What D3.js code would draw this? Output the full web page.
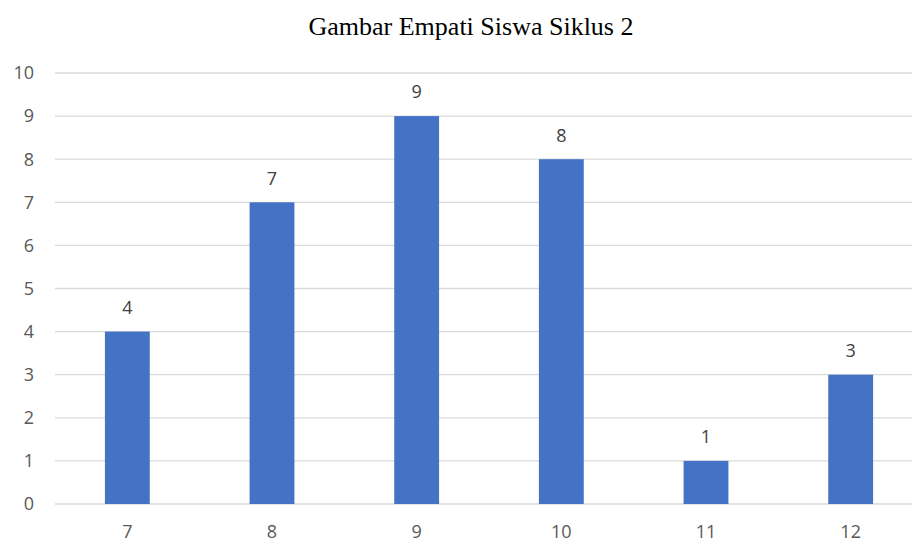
<!DOCTYPE html>
<html>
<head>
<meta charset="utf-8">
<script src="https://cdn.jsdelivr.net/npm/d3@7"></script>
<style>
  body { margin: 0; background: #fff; }
  svg { display: block; }
</style>
</head>
<body>
<script>
// chart data
const categories = ["7", "8", "9", "10", "11", "12"];
const values = [4, 7, 9, 8, 1, 3];
const yTicks = [0, 1, 2, 3, 4, 5, 6, 7, 8, 9, 10];
const title = "Gambar Empati Siswa Siklus 2";

const W = 912, H = 544;
const svg = d3.select("body").append("svg").attr("width", W).attr("height", H);

const x = d3.scaleBand().domain(categories).range([55, 923]).padding(0);
const y = d3.scaleLinear().domain([0, 10]).range([504, 73]);
const barW = x.bandwidth() * 0.31;
const labelFont = "Open Sans, sans-serif";

// gridlines
svg.append("g").selectAll("line").data(yTicks).join("line")
    .attr("x1", 55).attr("x2", W)
    .attr("y1", d => y(d)).attr("y2", d => y(d))
    .attr("stroke", "#d9d9d9").attr("stroke-width", 1.3);

// y labels
svg.append("g").selectAll("text").data(yTicks).join("text")
    .attr("x", 34).attr("y", d => y(d)).attr("dy", "0.35em")
    .attr("text-anchor", "end")
    .attr("font-family", labelFont).attr("font-size", 18)
    .attr("fill", "#595959").text(d => d);

// bars
svg.append("g").selectAll("rect").data(values).join("rect")
    .attr("x", (d, i) => x(categories[i]) + x.bandwidth() / 2 - barW / 2)
    .attr("width", barW)
    .attr("y", d => y(d)).attr("height", d => y(0) - y(d))
    .attr("fill", "#4472c4");

// data labels
svg.append("g").selectAll("text").data(values).join("text")
    .attr("x", (d, i) => x(categories[i]) + x.bandwidth() / 2)
    .attr("y", d => y(d) - 24).attr("dy", "0.35em")
    .attr("text-anchor", "middle")
    .attr("font-family", labelFont).attr("font-size", 18)
    .attr("fill", "#404040").text(d => d);

// x labels
svg.append("g").selectAll("text").data(categories).join("text")
    .attr("x", d => x(d) + x.bandwidth() / 2)
    .attr("y", 538)
    .attr("text-anchor", "middle")
    .attr("font-family", labelFont).attr("font-size", 18)
    .attr("fill", "#595959").text(d => d);

// title
svg.append("text")
    .attr("x", 471).attr("y", 35)
    .attr("text-anchor", "middle")
    .attr("font-family", "Liberation Serif, Times New Roman, serif").attr("font-size", 26)
    .attr("fill", "#000").text(title);
</script>
</body>
</html>
